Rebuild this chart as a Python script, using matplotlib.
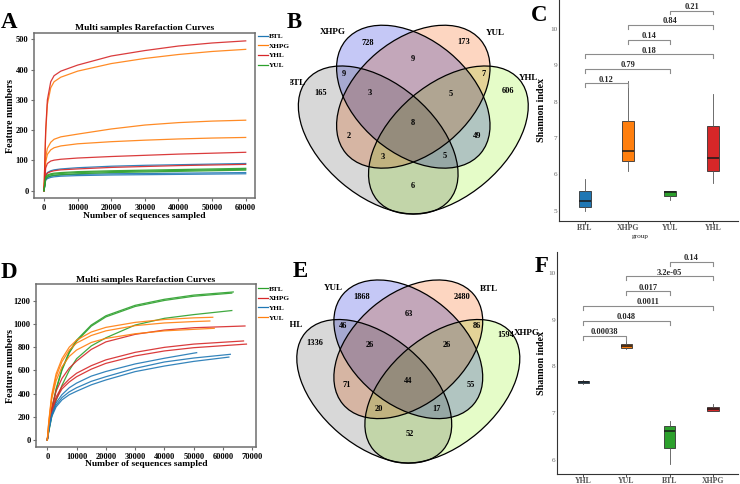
import numpy as np
import matplotlib
matplotlib.use('Agg')
import matplotlib.pyplot as plt
from matplotlib.patches import Ellipse
from matplotlib.lines import Line2D
from matplotlib.colors import to_rgb

plt.rcParams['font.family'] = ['Liberation Serif', 'DejaVu Serif']

W, H = 740, 484

# ---------------- data ----------------
# A: rarefaction curves (batch 1)
a_groups = ['BTL', 'XHPG', 'YHL', 'YUL']
a_x = [0, 500, 1000, 2000, 3000, 5000, 10000, 20000, 30000, 40000, 50000, 60000]
a_btl = [[0, 50, 60, 66, 69, 72, 76, 81, 84, 86, 88, 90],
         [0, 38, 44, 48, 50, 52, 54, 56, 57, 58, 59, 60],
         [0, 35, 40, 44, 46, 48, 50, 52, 53, 54, 55, 56]]
a_xhpg = [[0, 190, 285, 340, 360, 375, 395, 420, 437, 450, 460, 467],
          [0, 110, 140, 160, 170, 178, 187, 204, 217, 225, 230, 233],
          [0, 95, 120, 135, 142, 148, 155, 162, 167, 171, 174, 176]]
a_yhl = [[0, 200, 300, 360, 380, 395, 415, 445, 463, 478, 488, 495],
         [0, 75, 90, 98, 101, 104, 108, 113, 117, 121, 124, 127],
         [0, 50, 58, 63, 66, 69, 72, 77, 80, 83, 85, 87]]
a_yul = [[0, 45, 52, 56, 58, 60, 63, 66, 68, 70, 72, 74],
         [0, 42, 49, 53, 55, 57, 60, 63, 65, 67, 69, 71],
         [0, 38, 45, 49, 51, 53, 56, 60, 62, 64, 66, 68]]

# D: rarefaction curves (batch 2); each curve = grid + its own last point
d_groups = ['BTL', 'XHPG', 'YHL', 'YUL']
d_x = [0, 500, 1500, 3000, 5000, 7500, 10000, 15000, 20000, 30000, 40000, 50000]
d_btl_end = [63500, 63000, 63000]
d_btl = [[0, 90, 260, 440, 610, 760, 860, 990, 1070, 1160, 1212, 1248, 1275],
         [0, 85, 250, 430, 600, 750, 850, 980, 1060, 1150, 1202, 1238, 1265],
         [0, 70, 200, 340, 470, 600, 700, 810, 880, 990, 1048, 1080, 1115]]
d_xhpg_end = [67500, 67000, 68000]
d_xhpg = [[0, 110, 280, 420, 530, 620, 680, 780, 845, 910, 947, 967, 982],
          [0, 100, 250, 370, 460, 525, 575, 640, 690, 755, 798, 826, 853],
          [0, 95, 235, 350, 440, 500, 545, 610, 660, 724, 767, 795, 826]]
d_yhl_end = [51000, 62500, 62000]
d_yhl = [[0, 90, 220, 320, 390, 450, 490, 550, 590, 655, 704, 748, 752],
         [0, 85, 210, 300, 365, 415, 450, 505, 545, 617, 672, 706, 738],
         [0, 80, 200, 285, 345, 390, 420, 475, 517, 589, 637, 677, 714]]
d_yul_end = [56500, 55500, 57000]
d_yul = [[0, 160, 390, 570, 700, 800, 860, 930, 970, 1013, 1038, 1052, 1057],
         [0, 150, 370, 545, 675, 775, 835, 900, 940, 985, 1008, 1020, 1025],
         [0, 140, 350, 510, 630, 720, 775, 840, 875, 915, 940, 953, 962]]

# B / E: Venn counts (same region order in both)
b_sets = ['BTL', 'XHPG', 'YUL', 'YHL']
b_counts = [728, 173, 9, 9, 7, 165, 3, 5, 606, 8, 2, 49, 3, 5, 6]
e_sets = ['YHL', 'YUL', 'BTL', 'XHPG']
e_counts = [1868, 2480, 63, 46, 86, 1336, 26, 26, 1594, 44, 71, 55, 20, 17, 52]

# C / F: Shannon index boxes
c_groups = ['BTL', 'XHPG', 'YUL', 'YHL']
c_lo = [5.00, 6.10, 5.29, 5.75]
c_q1 = [5.11, 6.36, 5.40, 6.09]
c_med = [5.26, 6.63, 5.52, 6.45]
c_q3 = [5.55, 7.48, 5.55, 7.33]
c_hi = [5.86, 8.57, 5.55, 8.21]
c_pairs = [(0, 1), (0, 2), (0, 3), (1, 2), (1, 3), (2, 3)]
c_pair_y = [8.51, 8.90, 9.31, 9.70, 10.12, 10.51]
c_p = ['0.12', '0.79', '0.18', '0.14', '0.84', '0.21']

f_groups = ['YHL', 'YUL', 'BTL', 'XHPG']
f_lo = [7.62, 8.38, 5.91, 7.04]
f_q1 = [7.65, 8.40, 6.26, 7.05]
f_med = [7.67, 8.45, 6.62, 7.09]
f_q3 = [7.70, 8.49, 6.72, 7.14]
f_hi = [7.72, 8.54, 6.83, 7.19]
f_pairs = [(0, 1), (0, 2), (0, 3), (1, 2), (1, 3), (2, 3)]
f_pair_y = [8.66, 8.98, 9.30, 9.61, 9.93, 10.24]
f_p = ['0.00038', '0.048', '0.0011', '0.017', '3.2e-05', '0.14']

# ---------------- styling ----------------
pal_a = {'BTL': '#1f77b4', 'XHPG': '#ff7f0e', 'YHL': '#d62728', 'YUL': '#2ca02c'}
pal_d = {'BTL': '#2ca02c', 'XHPG': '#d62728', 'YHL': '#1f77b4', 'YUL': '#ff7f0e'}
box_cols = ['#1f77b4', '#ff7f0e', '#2ca02c', '#d62728']
venn_cols = ['#d8d8d8', '#c5c8f7', '#fdd6c1', '#e6fcc8']  # left, top-left, top-right, right

fig = plt.figure(figsize=(7.4, 4.84), dpi=100)


def px_axes(x0, y0, x1, y1):
    return fig.add_axes([x0 / W, 1 - y1 / H, (x1 - x0) / W, (y1 - y0) / H])


def rare_panel(ax, x, curves, ends, groups, pal, xlim, ylim, xticks, yticks, leg_top, ylab_x, xlab_y):
    for g, cs, es in zip(groups, curves, ends):
        for k, ys in enumerate(cs):
            xs = list(x) if es is None else list(x) + [es[k]]
            ax.plot(xs, ys, color=pal[g], lw=0.9, alpha=0.9)
    ax.set_xlim(*xlim)
    ax.set_ylim(*ylim)
    ax.set_xticks(xticks)
    ax.set_yticks(yticks)
    for s in ax.spines.values():
        s.set_color('#6e6e6e')
        s.set_linewidth(1.1)
    ax.tick_params(direction='out', length=2.5, width=0.8, color='#6e6e6e', labelsize=6, pad=1.5)
    for lab in ax.get_xticklabels() + ax.get_yticklabels():
        lab.set_fontweight('bold')
    ax.set_title('Multi samples Rarefaction Curves', fontsize=6.8, fontweight='bold', pad=2)
    ax.set_xlabel('Number of sequences sampled', fontsize=6.8, fontweight='bold')
    ax.set_ylabel('Feature numbers', fontsize=7.2, fontweight='bold')
    ax.yaxis.set_label_coords(ylab_x, 0.5)
    ax.xaxis.set_label_coords(0.5, xlab_y)
    handles = [Line2D([], [], color=pal[g], lw=0.9) for g in groups]
    ax.legend(handles, groups, loc='upper left', bbox_to_anchor=(258 / W, 1 - leg_top / H),
              bbox_transform=fig.transFigure, frameon=False, prop={'size': 5.2, 'weight': 'bold'},
              handlelength=1.4, handletextpad=0.15, labelspacing=0.5, borderpad=0, borderaxespad=0)


def venn_panel(ax, ref, sc, counts, pos, names, name_pos):
    x0, x1, y0, y1 = 290, 545, ref[2], ref[3]
    ells = [(-35.1, 43.3, 93.2, 56.3, 40.3),
            (0.0, 0.0, 88.0, 57.0, 40.0),
            (0.0, 0.0, 88.0, 57.0, -40.0),
            (35.1, 43.3, 93.2, 56.3, -40.3)]
    xs = np.linspace(x0, x1, (x1 - x0) * 3)
    ys = np.linspace(y0, y1, (y1 - y0) * 3)
    X, Y = np.meshgrid(xs, ys)
    img = np.ones(X.shape + (3,))
    shapes = []
    for (dx, dy, a, b, ang), col in zip(ells, venn_cols):
        cx, cy = ref[0] + dx * sc, ref[1] + dy * sc
        a, b = a * sc, b * sc
        t = np.deg2rad(ang)
        u = (X - cx) * np.cos(t) + (Y - cy) * np.sin(t)
        v = -(X - cx) * np.sin(t) + (Y - cy) * np.cos(t)
        inside = (u / a) ** 2 + (v / b) ** 2 <= 1
        img[inside] *= np.array(to_rgb(col))
        shapes.append((cx, cy, a, b, ang))
    ax.imshow(img, extent=(x0, x1, y1, y0), origin='upper', aspect='auto', interpolation='bilinear')
    for cx, cy, a, b, ang in shapes:
        ax.add_patch(Ellipse((cx, cy), 2 * a, 2 * b, angle=ang, fill=False, ec='black', lw=0.9))
    for n, (px, py) in zip(counts, pos):
        ax.text(px, py, str(n), ha='center', va='center', fontsize=6, fontweight='bold', clip_on=True)
    for n, (px, py) in zip(names, name_pos):
        ax.text(px, py, n, ha='center', va='center', fontsize=6.5, fontweight='bold', clip_on=True)
    ax.set_xlim(x0, x1)
    ax.set_ylim(y1, y0)
    ax.set_xticks([])
    ax.set_yticks([])
    for s in ax.spines.values():
        s.set_visible(False)


def box_panel(ax, groups, lo, q1, med, q3, hi, pairs, pair_y, plabs, ylim, yticks, pxu, width):
    stats = [dict(med=m, q1=a, q3=b, whislo=l, whishi=h, fliers=[])
             for l, a, m, b, h in zip(lo, q1, med, q3, hi)]
    bp = ax.bxp(stats, positions=range(len(groups)), widths=width, patch_artist=True,
                showcaps=False, showfliers=False,
                boxprops=dict(edgecolor='#333333', linewidth=0.6),
                medianprops=dict(color='#1a1a1a', linewidth=1.1),
                whiskerprops=dict(color='#555555', linewidth=0.6))
    for patch, col in zip(bp['boxes'], box_cols):
        patch.set_facecolor(col)
    tick = 3.8 / pxu
    for (i, j), y, lab in zip(pairs, pair_y, plabs):
        ax.plot([i, i, j, j], [y - tick, y, y, y - tick], color='#8c8c8c', lw=0.8, clip_on=False)
        ax.text((i + j) / 2, y + 1.6 / pxu, lab, ha='center', va='baseline', fontsize=6,
                fontweight='bold', color='#262626')
    ax.set_xlim(-0.6, 3.58)
    ax.set_ylim(*ylim)
    ax.set_xticks(range(len(groups)))
    ax.set_xticklabels(groups, fontsize=5.6, fontweight='bold', color='#555555')
    ax.set_yticks(yticks)
    ax.set_yticklabels([str(v) for v in yticks], fontsize=5.2, color='#666666')
    ax.tick_params(axis='x', length=1.8, width=0.6, color='#333333', pad=0.3)
    ax.tick_params(axis='y', length=0, pad=1.2)
    for s in ['top', 'right']:
        ax.spines[s].set_visible(False)
    for s in ['left', 'bottom']:
        ax.spines[s].set_color('#333333')
        ax.spines[s].set_linewidth(0.8)
    ax.set_ylabel('Shannon index', fontsize=7.2, fontweight='bold')
    ax.patch.set_alpha(0)


# ---------------- panels ----------------
ax_a = px_axes(34, 33, 255, 198)
rare_panel(ax_a, a_x, [a_btl, a_xhpg, a_yhl, a_yul], [None] * 4, a_groups, pal_a,
           (-2975, 62766), (-24, 521), range(0, 60001, 10000), range(0, 501, 100), 33, -0.086, -0.085)

ax_d = px_axes(36, 284.3, 256, 447.3)
rare_panel(ax_d, d_x, [d_btl, d_xhpg, d_yhl, d_yul], [d_btl_end, d_xhpg_end, d_yhl_end, d_yul_end],
           d_groups, pal_d, (-3860, 71260), (-63, 1341), range(0, 70001, 10000), range(0, 1201, 200),
           285.5, -0.095, -0.078)

ax_b = px_axes(290, 0, 545, 240)
venn_panel(ax_b, (413.3, 96.7, 0, 240), 1.0, b_counts,
           [(367.3, 43.3), (464, 41.7), (413.3, 59.3), (344.3, 74), (483.3, 74), (320.7, 93.3),
            (369.3, 92.7), (450.7, 94.3), (508, 91), (413.3, 123.3), (348.3, 136), (477.3, 136),
            (382.7, 156.7), (444.3, 156), (413.3, 186)],
           b_sets, [(296.5, 83), (332.5, 32.3), (495, 33), (529, 78)])

ax_e = px_axes(290, 240, 545, 484)
venn_panel(ax_e, (408.3, 349.3, 240, 484), 0.97, e_counts,
           [(361.7, 296.7), (461.7, 296.7), (409.3, 314), (343.3, 326), (476.7, 326), (315, 343.3),
            (370, 345), (447.3, 345), (506, 335), (408.3, 381), (346.7, 385.3), (471, 385.3),
            (378.7, 409.3), (436.7, 409.3), (409.3, 434)],
           e_sets, [(293.5, 325), (333.5, 287.7), (489, 289.3), (527, 332.7)])

ax_c = px_axes(559.3, 0, 738, 221)
box_panel(ax_c, c_groups, c_lo, c_q1, c_med, c_q3, c_hi, c_pairs, c_pair_y, c_p,
          (4.716, 10.8), [5, 6, 7, 8, 9, 10], 36.3, 0.28)
ax_c.yaxis.set_label_coords(-0.075, 0.5)
ax_c.set_xlabel('group', fontsize=5.2, color='#222222')
ax_c.xaxis.set_label_coords(0.45, -0.058)

ax_f = px_axes(557.3, 251.7, 738, 474.3)
box_panel(ax_f, f_groups, f_lo, f_q1, f_med, f_q3, f_hi, f_pairs, f_pair_y, f_p,
          (5.69, 10.46), [6, 7, 8, 9, 10], 46.6, 0.26)
ax_f.yaxis.set_label_coords(-0.065, 0.5)

for lab, x, y in [('A', 9, 28.3), ('B', 294, 28.3), ('C', 539, 20.7),
                  ('D', 9, 278.3), ('E', 300, 276.7), ('F', 541.5, 271.7)]:
    fig.text(x / W, 1 - y / H, lab, fontsize=16.5, fontweight='bold', ha='center', va='baseline')

fig.savefig('out.png', dpi=100)
